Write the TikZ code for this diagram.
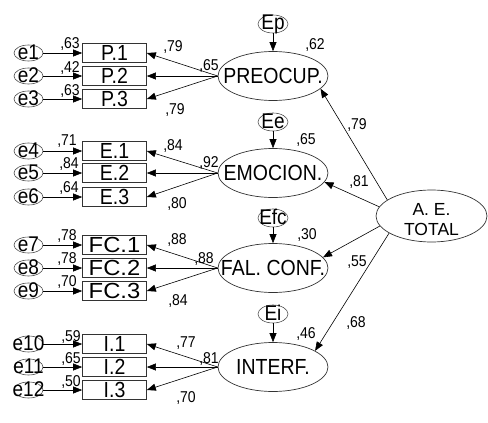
\documentclass[tikz,border=0pt]{standalone}
\usepackage{fontspec}
\setmainfont{Liberation Sans}
\usetikzlibrary{shapes.geometric,arrows.meta}
\newcommand\tx[1]{\scalebox{1}[1.12]{#1}}
\newcommand\fx[1]{\scalebox{1.22}[1.12]{#1}}
\tikzset{
  lat/.style={ellipse, draw=black!80, line width=0.7pt, minimum width=110pt, minimum height=49pt, inner sep=0pt},
  err/.style={ellipse, draw=black!70, line width=0.6pt, minimum width=29pt, minimum height=16pt, inner sep=0pt},
  dist/.style={ellipse, draw=black!70, line width=0.6pt, minimum width=30pt, minimum height=18pt, inner sep=0pt},
  obs/.style={rectangle, draw=black!80, line width=0.7pt, minimum width=64pt, minimum height=19pt, inner sep=0pt},
  big/.style={font=\fontsize{19.5}{19.5}\selectfont, anchor=base, inner sep=0pt},
  etxt/.style={font=\fontsize{19}{19}\selectfont, anchor=base, inner sep=0pt},
  num/.style={font=\fontsize{14}{14}\selectfont, anchor=base, inner sep=0pt},
  arr/.style={-{Triangle[length=9pt,width=7pt]}, line width=0.6pt, draw=black},
}
\begin{document}
\begin{tikzpicture}[x=1pt,y=-1pt]
\useasboundingbox (0,0) rectangle (488,423);

% ---------- latent variables ----------
\node[lat] (pre) at (273,76) {};  \node[big] (pret) at (273,83) {\tx{PREOCUP.}};
\node[lat] (emo) at (273,173) {}; \node[big] (emot) at (273,180) {\tx{EMOCION.}};
\node[lat] (fal) at (273,268) {}; \node[big] (falt) at (273,275) {\tx{FAL. CONF.}};
\node[lat] (int) at (273,367) {}; \node[big] (intt) at (273,374) {\tx{INTERF.}};
\node[lat, minimum width=111pt, minimum height=52pt] (ae) at (431.5,216) {};
\node[font=\fontsize{17.5}{20}\selectfont, align=center, inner sep=0pt] (aet) at (431.5,220) {A. E.\\TOTAL};

% ---------- disturbances ----------
\node[dist] (ep) at (273,24) {};   \node[etxt] (ept) at (273,30) {\tx{Ep}};
\node[dist] (ee) at (273,122) {};  \node[etxt] (eet) at (273,128) {\tx{Ee}};
\node[dist] (efc) at (273,218) {}; \node[etxt] (efct) at (273,224) {\tx{Efc}};
\node[dist] (ei) at (273,314) {};  \node[etxt] (eit) at (273,320) {\tx{Ei}};
\draw[arr] (ep) -- (pre);
\draw[arr] (ee) -- (emo);
\draw[arr] (efc) -- (fal);
\draw[arr] (ei) -- (int);
\node[num] (r1) at (315,49) {\tx{,62}};
\node[num] (r2) at (306,144) {\tx{,65}};
\node[num] (r3) at (307,239) {\tx{,30}};
\node[num] (r4) at (306,338) {\tx{,46}};

% ---------- structural paths ----------
\draw[arr] (ae.160) -- (pre.-15);
\draw[arr] (ae.170) -- (emo.-10);
\draw[arr] (ae.191) -- (fal.12);
\draw[arr] (ae.202) -- (int.21);
\node[num] (s1) at (357,129) {\tx{,79}};
\node[num] (s2) at (359,186) {\tx{,81}};
\node[num] (s3) at (357,266) {\tx{,55}};
\node[num] (s4) at (356,327) {\tx{,68}};

% ---------- block P ----------
\node[obs] (p1) at (114.5,53) {}; \node[big] at (114.5,60) {\tx{P.1}};
\node[obs] (p2) at (114.5,76) {}; \node[big] at (114.5,83) {\tx{P.2}};
\node[obs] (p3) at (114.5,99) {}; \node[big] at (114.5,106) {\tx{P.3}};
\node[err] (e1) at (28.5,53) {}; \node[etxt] at (28.5,59) {\tx{e1}};
\node[err] (e2) at (28.5,76) {}; \node[etxt] at (28.5,82) {\tx{e2}};
\node[err] (e3) at (28.5,99) {}; \node[etxt] at (28.5,105) {\tx{e3}};
\draw[arr] (e1) -- (p1); \draw[arr] (e2) -- (p2); \draw[arr] (e3) -- (p3);
\draw[arr] (pre.west) -- (p1.east);
\draw[arr] (pre.west) -- (p2.east);
\draw[arr] (pre.west) -- (p3.east);
\node[num] at (70,48) {\tx{,63}};
\node[num] at (70,72) {\tx{,42}};
\node[num] at (70,95) {\tx{,63}};
\node[num] at (173,52) {\tx{,79}};
\node[num] at (209,70) {\tx{,65}};
\node[num] at (175,114) {\tx{,79}};

% ---------- block E ----------
\node[obs] (b4) at (114.5,151) {}; \node[big] at (114.5,158) {\tx{E.1}};
\node[obs] (b5) at (114.5,173) {}; \node[big] at (114.5,180) {\tx{E.2}};
\node[obs] (b6) at (114.5,197) {}; \node[big] at (114.5,204) {\tx{E.3}};
\node[err] (e4) at (28.5,151) {}; \node[etxt] at (28.5,157) {\tx{e4}};
\node[err] (e5) at (28.5,173) {}; \node[etxt] at (28.5,179) {\tx{e5}};
\node[err] (e6) at (28.5,197) {}; \node[etxt] at (28.5,203) {\tx{e6}};
\draw[arr] (e4) -- (b4); \draw[arr] (e5) -- (b5); \draw[arr] (e6) -- (b6);
\draw[arr] (emo.west) -- (b4.east);
\draw[arr] (emo.west) -- (b5.east);
\draw[arr] (emo.west) -- (b6.east);
\node[num] at (67,145) {\tx{,71}};
\node[num] at (69,168) {\tx{,84}};
\node[num] at (69,192) {\tx{,64}};
\node[num] at (173,150) {\tx{,84}};
\node[num] at (209,167) {\tx{,92}};
\node[num] at (177,208) {\tx{,80}};

% ---------- block FC ----------
\node[obs] (b7) at (114.5,245) {}; \node[big] at (114.5,252) {\fx{FC.1}};
\node[obs] (b8) at (114.5,268) {}; \node[big] at (114.5,275) {\fx{FC.2}};
\node[obs] (b9) at (114.5,291) {}; \node[big] at (114.5,298) {\fx{FC.3}};
\node[err] (e7) at (28.5,245) {}; \node[etxt] at (28.5,251) {\tx{e7}};
\node[err] (e8) at (28.5,268) {}; \node[etxt] at (28.5,274) {\tx{e8}};
\node[err] (e9) at (28.5,291) {}; \node[etxt] at (28.5,297) {\tx{e9}};
\draw[arr] (e7) -- (b7); \draw[arr] (e8) -- (b8); \draw[arr] (e9) -- (b9);
\draw[arr] (fal.west) -- (b7.east);
\draw[arr] (fal.west) -- (b8.east);
\draw[arr] (fal.west) -- (b9.east);
\node[num] at (67,240) {\tx{,78}};
\node[num] at (67,263) {\tx{,78}};
\node[num] at (67,286) {\tx{,70}};
\node[num] at (177,244) {\tx{,88}};
\node[num] at (204,263) {\tx{,88}};
\node[num] at (178,305) {\tx{,84}};

% ---------- block I ----------
\node[obs] (b10) at (114.5,344) {}; \node[big] at (114.5,351) {\tx{I.1}};
\node[obs] (b11) at (114.5,367) {}; \node[big] at (114.5,374) {\tx{I.2}};
\node[obs] (b12) at (114.5,390) {}; \node[big] at (114.5,397) {\tx{I.3}};
\node[err] (e10) at (28.5,344) {}; \node[etxt] at (28.5,350) {\tx{e10}};
\node[err] (e11) at (28.5,367) {}; \node[etxt] at (28.5,373) {\tx{e11}};
\node[err] (e12) at (28.5,390) {}; \node[etxt] at (28.5,396) {\tx{e12}};
\draw[arr] (e10) -- (b10); \draw[arr] (e11) -- (b11); \draw[arr] (e12) -- (b12);
\draw[arr] (int.west) -- (b10.east);
\draw[arr] (int.west) -- (b11.east);
\draw[arr] (int.west) -- (b12.east);
\node[num] at (71,341) {\tx{,59}};
\node[num] at (71,363) {\tx{,65}};
\node[num] at (71,386) {\tx{,50}};
\node[num] at (186,347) {\tx{,77}};
\node[num] at (209,363) {\tx{,81}};
\node[num] at (186,402) {\tx{,70}};
\end{tikzpicture}
\end{document}
